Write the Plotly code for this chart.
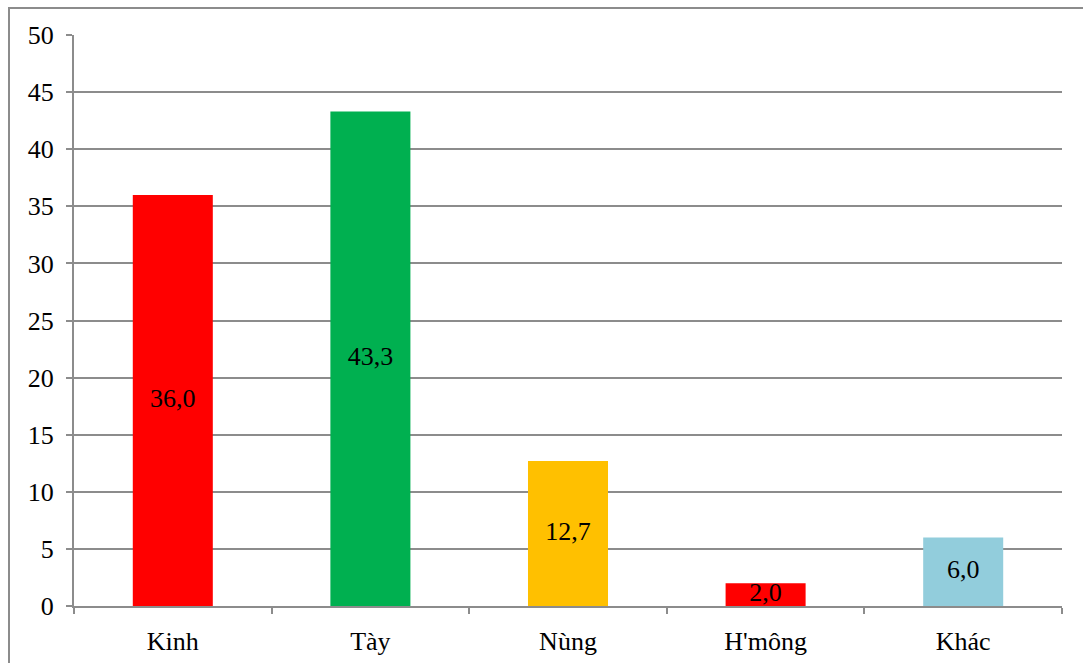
import plotly.graph_objects as go

categories = ["Kinh", "Tày", "Nùng", "H'mông", "Khác"]
values = [36.0, 43.3, 12.7, 2.0, 6.0]
labels = ["36,0", "43,3", "12,7", "2,0", "6,0"]
colors = ["#FF0000", "#00B050", "#FFC000", "#FF0000", "#92CDDC"]
y_ticks = [0, 5, 10, 15, 20, 25, 30, 35, 40, 45, 50]

FONT = "'Times New Roman', 'Liberation Serif', serif"

fig = go.Figure()
fig.add_trace(go.Bar(
    x=categories, y=values, marker=dict(color=colors, line=dict(width=0)),
    width=0.405, showlegend=False, hoverinfo="skip",
))
fig.add_trace(go.Scatter(
    x=categories, y=[v / 2 for v in values], text=labels, mode="text",
    textposition="middle center", textfont=dict(family=FONT, size=26, color="black"),
    showlegend=False, hoverinfo="skip",
))

fig.update_layout(
    width=1083, height=663,
    margin=dict(l=74, r=21, t=35, b=57),
    plot_bgcolor="white", paper_bgcolor="white",
    font=dict(family=FONT, size=26, color="black"),
    xaxis=dict(
        type="category", showgrid=False, showline=True, linecolor="#8c8c8c", linewidth=2,
        ticks="outside", tickson="boundaries", ticklen=6, tickcolor="#8c8c8c", tickwidth=2,
        tickfont=dict(family=FONT, size=26), range=[-0.5, 4.5], ticklabelstandoff=11,
        automargin=False,
    ),
    yaxis=dict(
        range=[0, 50], tickvals=y_ticks, showgrid=True, gridcolor="#8c8c8c", gridwidth=2,
        showline=True, linecolor="#8c8c8c", linewidth=2, zeroline=False,
        ticks="outside", ticklen=6, tickcolor="#8c8c8c", tickwidth=2,
        tickfont=dict(family=FONT, size=26), ticklabelstandoff=7, automargin=False,
    ),
    shapes=[dict(type="rect", xref="paper", yref="paper",
                 x0=-65 / 988, x1=1.2, y0=-0.2, y1=1 + 27 / 571,
                 line=dict(color="#8c8c8c", width=2), layer="below")],
)

fig.write_html("out.html")
